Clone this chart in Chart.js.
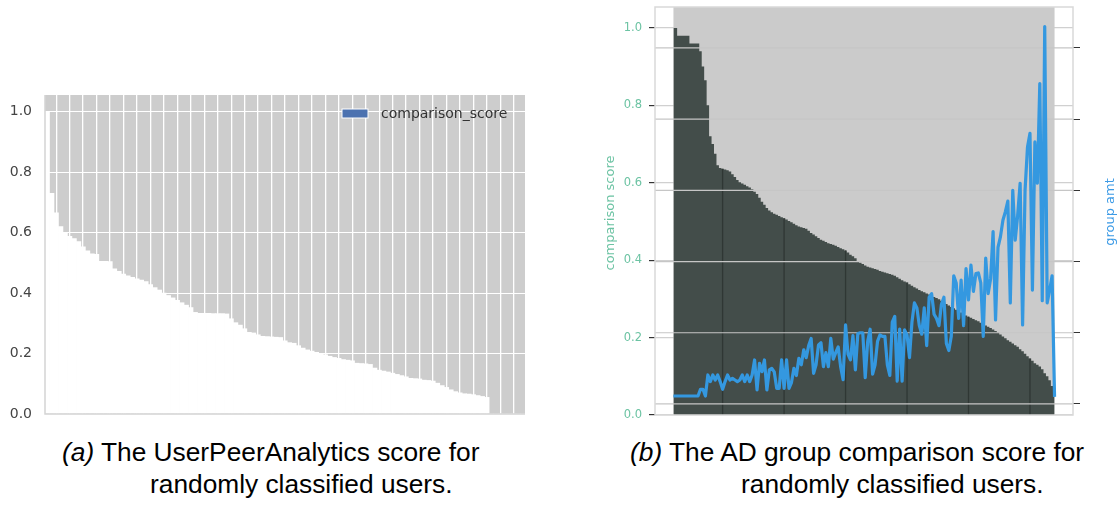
<!DOCTYPE html>
<html>
<head>
<meta charset="utf-8">
<script src="https://cdn.jsdelivr.net/npm/chart.js@4.4.1/dist/chart.umd.min.js"></script>
<style>
  html, body { margin: 0; padding: 0; background: #ffffff; width: 1117px; height: 508px; overflow: hidden; }
  #panelA { position: absolute; left: 0; top: 0; }
  #panelB { position: absolute; left: 590px; top: 0; }
  .cap { position: absolute; font-family: 'Liberation Sans', Arial, sans-serif; font-size: 26.3px; line-height: 1; color: #000; white-space: nowrap; }
</style>
</head>
<body>
<canvas id="panelA" width="540" height="430"></canvas>
<canvas id="panelB" width="527" height="430"></canvas>
<div class="cap" style="left:62px;top:439px;"><i>(a)</i> The UserPeerAnalytics score for</div>
<div class="cap" style="left:150px;top:471px;">randomly classified users.</div>
<div class="cap" style="left:630px;top:439px;"><i>(b)</i> The AD group comparison score for</div>
<div class="cap" style="left:741px;top:471px;">randomly classified users.</div>
<script>
// ---- Panel (a): UserPeerAnalytics comparison score, one bar per user, sorted ----
const seriesNameA = 'comparison_score';
const scoreA = [
  1.0, 0.73, 0.665, 0.62, 0.598, 0.588, 0.58, 0.57, 0.553, 0.54,
  0.53, 0.528, 0.505, 0.505, 0.504, 0.48, 0.472, 0.463, 0.457, 0.452,
  0.447, 0.443, 0.438, 0.428, 0.418, 0.41, 0.40, 0.392, 0.384, 0.376,
  0.368, 0.36, 0.352, 0.336, 0.333, 0.333, 0.333, 0.332, 0.332, 0.332,
  0.331, 0.315, 0.302, 0.294, 0.282, 0.27, 0.268, 0.262, 0.257, 0.256,
  0.255, 0.254, 0.253, 0.242, 0.236, 0.234, 0.226, 0.218, 0.212, 0.208,
  0.204, 0.2, 0.196, 0.191, 0.187, 0.184, 0.18, 0.178, 0.176, 0.168,
  0.167, 0.166, 0.164, 0.152, 0.145, 0.142, 0.139, 0.135, 0.131, 0.127,
  0.123, 0.118, 0.117, 0.116, 0.112, 0.111, 0.109, 0.102, 0.094, 0.088,
  0.08, 0.074, 0.07, 0.067, 0.066, 0.064, 0.061, 0.058, 0.055, 0,
  0, 0, 0, 0, 0, 0, 0
];
const scoreTicks = [0, 0.2, 0.4, 0.6, 0.8, 1.0];
// user positions that carry a (label-less) x tick
const userTicksA = [2, 5, 8, 11, 14, 17, 20, 23, 26, 29, 32, 35, 38, 41, 44, 47, 50, 53,
  56, 59, 62, 65, 68, 71, 74, 77, 80, 83, 86, 89, 92, 95, 98, 101, 104];

// ---- Panel (b): AD group comparison score and group size per user ----
const scoreLabelB = 'comparison score';
const groupLabelB = 'group amt';
const scoreB = [
  1.0, 1.0, 0.98, 0.98, 0.98, 0.98, 0.98, 0.96, 0.96, 0.96,
  0.96, 0.94, 0.90, 0.865, 0.80, 0.72, 0.70, 0.675, 0.645, 0.638,
  0.636, 0.634, 0.632, 0.629, 0.622, 0.615, 0.607, 0.601, 0.598, 0.595,
  0.591, 0.588, 0.583, 0.577, 0.571, 0.561, 0.551, 0.543, 0.535, 0.528,
  0.524, 0.52, 0.517, 0.514, 0.511, 0.508, 0.505, 0.501, 0.498, 0.494,
  0.49, 0.487, 0.485, 0.483, 0.481, 0.476, 0.47, 0.466, 0.462, 0.457,
  0.453, 0.45, 0.447, 0.444, 0.442, 0.44, 0.437, 0.434, 0.431, 0.428,
  0.425, 0.42, 0.414, 0.41, 0.405, 0.398, 0.393, 0.39, 0.386, 0.383,
  0.381, 0.379, 0.377, 0.375, 0.372, 0.37, 0.368, 0.366, 0.364, 0.362,
  0.36, 0.356, 0.352, 0.348, 0.345, 0.342, 0.338, 0.334, 0.33, 0.327,
  0.323, 0.32, 0.317, 0.314, 0.311, 0.308, 0.305, 0.302, 0.299, 0.295,
  0.291, 0.287, 0.283, 0.279, 0.276, 0.272, 0.268, 0.265, 0.261, 0.257,
  0.254, 0.251, 0.248, 0.245, 0.242, 0.238, 0.235, 0.231, 0.228, 0.225,
  0.221, 0.217, 0.213, 0.208, 0.203, 0.198, 0.193, 0.189, 0.185, 0.18,
  0.176, 0.17, 0.165, 0.158, 0.152, 0.146, 0.14, 0.134, 0.13, 0.125,
  0.118, 0.108, 0.1, 0.09, 0.075, 0.055
];
const groupAmt = [
  1.12, 1.12, 1.12, 1.12, 1.12, 1.12, 1.12, 1.12, 1.12, 1.12,
  1.12, 2.06, 2.06, 1.12, 4.07, 3.14, 4.07, 3.37, 4.07, 3.14,
  2.06, 3.14, 4.07, 3.37, 3.6, 3.37, 3.14, 3.37, 4.07, 3.14,
  4.07, 3.14, 4.07, 6.18, 1.97, 5.71, 4.54, 6.18, 1.97, 4.78,
  5.0, 4.5, 2.2, 2.2, 6.18, 2.2, 6.18, 2.2, 3.0, 5.0,
  4.0, 6.4, 5.5, 7.6, 6.5, 8.2, 9.2, 4.3, 5.5, 8.3,
  8.6, 5.24, 7.2, 5.24, 9.22, 6.3, 7.2, 8.0, 5.24, 3.4,
  11.1, 7.0, 6.2, 9.6, 4.8, 9.9, 10.0, 10.0, 3.7, 8.8,
  10.5, 4.2, 5.5, 8.8, 9.7, 9.5, 9.5, 5.5, 4.0, 11.5,
  12.3, 3.2, 10.5, 3.2, 10.4, 9.7, 6.5, 11.5, 14.2, 13.5,
  11.0, 9.8, 13.5, 8.2, 15.0, 15.5, 12.6, 12.0, 11.0, 14.0,
  15.0, 8.5, 7.5, 9.5, 18.0, 17.0, 12.0, 17.4, 11.0, 19.0,
  14.6, 19.5, 15.8, 18.3, 18.4, 17.0, 9.5, 20.5, 15.5, 17.6,
  24.2, 11.8, 22.0, 23.5, 25.8, 27.0, 28.5, 14.2, 30.0, 23.0,
  26.5, 31.0, 11.1, 30.0, 36.1, 38.0, 16.0, 36.8, 31.0, 45.0,
  14.5, 53.0, 14.2, 16.0, 18.0, 1.0
];
const groupTicks = [0, 10, 20, 30, 40, 50];
const userTicksB = [20, 45, 70, 95, 120, 145];

const fmt1 = v => Number(v).toFixed(1);
const toPoints = arr => arr.map((v, i) => ({ x: i, y: v }));
// fixed axis sizes so the plot areas sit where the layout padding puts them
const fixWidth = w => s => { s.width = w; s.paddingTop = 0; s.paddingBottom = 0; };
const flatAxis = s => { s.height = 0; s.paddingLeft = 0; s.paddingRight = 0; };

// fills the plot area before scales and bars are drawn
const plotBackground = {
  id: 'plotBackground',
  beforeDraw(chart, args, opts) {
    const { ctx, chartArea: a } = chart;
    ctx.save();
    ctx.fillStyle = opts.color;
    ctx.fillRect(a.left, a.top, a.width, a.height);
    ctx.restore();
  }
};

// left and bottom spines plus the in-axes legend of panel (a)
const panelADecor = {
  id: 'panelADecor',
  afterDatasetsDraw(chart, args, opts) {
    const { ctx, chartArea: a } = chart;
    ctx.save();
    ctx.strokeStyle = '#d4d4d4';
    ctx.lineWidth = 1.5;
    ctx.beginPath();
    ctx.moveTo(a.left, a.top);
    ctx.lineTo(a.left, a.bottom);
    ctx.lineTo(a.right, a.bottom);
    ctx.stroke();

    const lx = a.right - 183, ly = a.top + 14;
    ctx.fillStyle = opts.patch;
    ctx.fillRect(lx, ly, 26, 9);
    ctx.strokeStyle = '#ffffff';
    ctx.lineWidth = 1;
    ctx.strokeRect(lx, ly, 26, 9);
    ctx.fillStyle = '#333333';
    ctx.font = '14px "DejaVu Sans"';
    ctx.textBaseline = 'middle';
    ctx.textAlign = 'left';
    ctx.fillText(chart.data.datasets[0].label, lx + 39, ly + 5);
    ctx.restore();
  }
};

new Chart(document.getElementById('panelA'), {
  type: 'bar',
  data: {
    datasets: [{
      label: seriesNameA,
      data: toPoints(scoreA),
      backgroundColor: '#ffffff',
      borderWidth: 0,
      barPercentage: 1,
      categoryPercentage: 1
    }]
  },
  options: {
    responsive: false,
    animation: false,
    events: [],
    layout: { padding: { top: 95, right: 15, bottom: 16, left: 0 } },
    plugins: {
      legend: { display: false },
      tooltip: { enabled: false },
      plotBackground: { color: '#cdcdcd' },
      panelADecor: { patch: '#4c72b0' }
    },
    scales: {
      x: {
        type: 'linear', min: -0.5, max: scoreA.length - 0.5, offset: false,
        grid: { color: '#ffffff', lineWidth: 1.3, drawTicks: false, offset: false },
        border: { display: false },
        ticks: { display: false },
        afterBuildTicks: s => { s.ticks = userTicksA.map(v => ({ value: v })); },
        afterFit: flatAxis
      },
      y: {
        min: 0, max: 1.055,
        grid: { color: '#ffffff', lineWidth: 1, drawTicks: false },
        border: { display: false },
        ticks: { color: '#444444', font: { family: 'DejaVu Sans', size: 14 }, padding: 13, callback: fmt1 },
        afterBuildTicks: s => { s.ticks = scoreTicks.map(v => ({ value: v })); },
        afterFit: fixWidth(45)
      }
    }
  },
  plugins: [plotBackground, panelADecor]
});

// panel (b): grey backdrop over the user range, dark tick lines under the
// score fill, twin-axis grid over the fill, frame and both axis titles
const panelBDecor = {
  id: 'panelBDecor',
  beforeDatasetsDraw(chart) {
    const { ctx, chartArea: a, scales } = chart;
    const x0 = scales.x.getPixelForValue(0);
    const x1 = scales.x.getPixelForValue(scoreB.length - 1);
    ctx.save();
    ctx.fillStyle = '#cbcbcb';
    ctx.fillRect(x0, a.top, x1 - x0, a.height);
    ctx.restore();
  },
  afterDatasetDraw(chart, args) {
    if (args.index !== 0) return;
    const { ctx, chartArea: a, scales } = chart;
    ctx.save();
    ctx.strokeStyle = '#2f3734';
    ctx.lineWidth = 1.3;
    userTicksB.forEach(v => {
      const x = scales.x.getPixelForValue(v);
      const yTop = scales.y.getPixelForValue(scoreB[v]);
      ctx.beginPath();
      ctx.moveTo(x, a.bottom);
      ctx.lineTo(x, yTop);
      ctx.stroke();
    });
    ctx.strokeStyle = '#c6c6c6';
    ctx.lineWidth = 1.2;
    groupTicks.forEach(v => {
      const y = scales.y2.getPixelForValue(v);
      ctx.beginPath();
      ctx.moveTo(a.left, y);
      ctx.lineTo(a.right, y);
      ctx.stroke();
    });
    ctx.restore();
  },
  afterDraw(chart) {
    const { ctx, chartArea: a } = chart;
    ctx.save();
    ctx.strokeStyle = '#d9d9d9';
    ctx.lineWidth = 1.5;
    ctx.strokeRect(a.left, a.top, a.width, a.height);

    ctx.font = '13px "DejaVu Sans"';
    ctx.textAlign = 'center';
    ctx.textBaseline = 'middle';
    ctx.translate(21, 213);
    ctx.rotate(-Math.PI / 2);
    ctx.fillStyle = '#6cc3a3';
    ctx.fillText(scoreLabelB, 0, 0);
    ctx.restore();

    ctx.save();
    ctx.font = '13px "DejaVu Sans"';
    ctx.textAlign = 'center';
    ctx.textBaseline = 'middle';
    ctx.translate(521, 212);
    ctx.rotate(-Math.PI / 2);
    ctx.fillStyle = '#3d9be6';
    ctx.fillText(groupLabelB, 0, 0);
    ctx.restore();
  }
};

new Chart(document.getElementById('panelB'), {
  type: 'line',
  data: {
    datasets: [
      {
        label: scoreLabelB,
        data: toPoints(scoreB),
        yAxisID: 'y',
        stepped: 'middle',
        fill: 'origin',
        backgroundColor: '#434d4a',
        borderWidth: 0,
        pointRadius: 0,
        order: 2
      },
      {
        label: groupLabelB,
        data: toPoints(groupAmt),
        yAxisID: 'y2',
        borderColor: '#3498e0',
        borderWidth: 3.2,
        borderJoinStyle: 'round',
        pointRadius: 0,
        fill: false,
        tension: 0,
        order: 1
      }
    ]
  },
  options: {
    responsive: false,
    animation: false,
    events: [],
    layout: { padding: { top: 7, bottom: 15, left: 0, right: 0 } },
    plugins: { legend: { display: false }, tooltip: { enabled: false } },
    scales: {
      x: {
        type: 'linear', min: -7.5, max: 162.5,
        grid: { display: false },
        border: { display: false },
        ticks: { display: false },
        afterBuildTicks: s => { s.ticks = userTicksB.map(v => ({ value: v })); },
        afterFit: flatAxis
      },
      y: {
        position: 'left', min: 0, max: 1.054,
        grid: { color: '#d0d0d0', lineWidth: 1.2, tickColor: '#333333', tickLength: 6 },
        border: { display: false },
        ticks: { color: '#6cc3a3', font: { family: 'DejaVu Sans', size: 11.5 }, padding: 7, callback: fmt1 },
        afterBuildTicks: s => { s.ticks = scoreTicks.map(v => ({ value: v })); },
        afterFit: fixWidth(65)
      },
      y2: {
        position: 'right', min: -1.55, max: 55.75,
        grid: { drawOnChartArea: false, color: 'rgba(0,0,0,0)', tickColor: '#333333', tickLength: 7 },
        border: { display: false },
        ticks: { display: false },
        afterBuildTicks: s => { s.ticks = groupTicks.map(v => ({ value: v })); },
        afterFit: fixWidth(44)
      }
    }
  },
  plugins: [panelBDecor]
});
</script>
</body>
</html>
